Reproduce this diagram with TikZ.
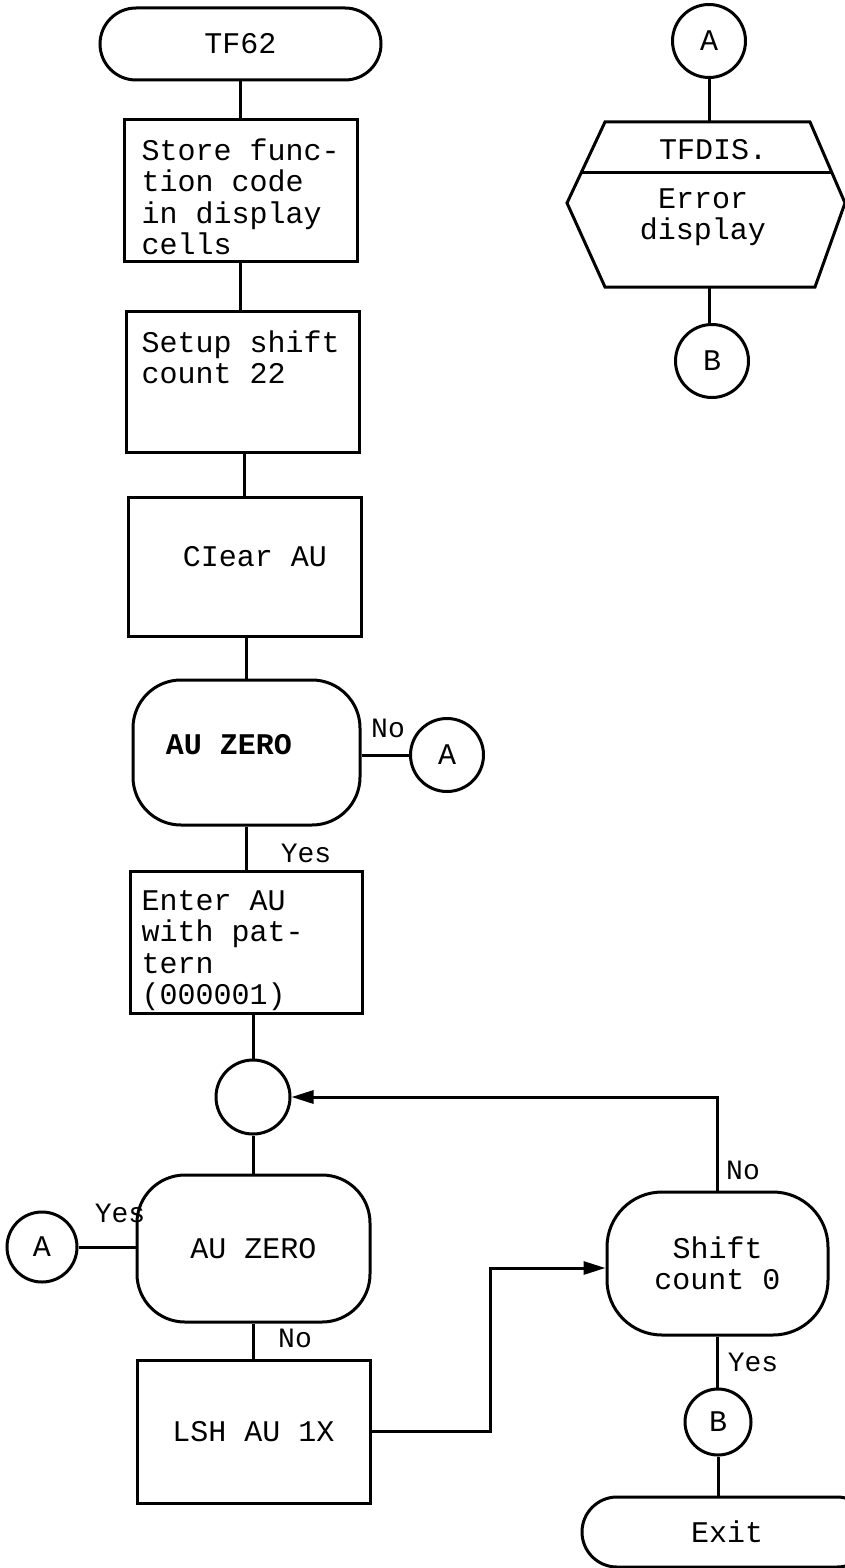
\documentclass[tikz,border=0pt]{standalone}
\usepackage{fontspec}
\newfontfamily\tw{Liberation Mono}
\usetikzlibrary{arrows.meta,shapes.misc}
\begin{document}
\begin{tikzpicture}[x=1pt,y=-1pt,line width=3pt,
  txt/.style={font=\tw\fontsize{30}{31.5}\selectfont, inner sep=0pt, align=left},
  boxnode/.style={draw, rectangle, inner sep=0pt, minimum width=233pt, minimum height=141pt, font=\tw\fontsize{30}{31.5}\selectfont},
  term/.style={draw, rounded rectangle, inner sep=0pt, minimum height=72pt, font=\tw\fontsize{30}{31.5}\selectfont},
  dec/.style={draw, rectangle, rounded corners=48pt, inner sep=0pt, align=center, font=\tw\fontsize{30}{31.5}\selectfont},
  conn/.style={draw, circle, inner sep=0pt, minimum size=73pt, font=\tw\fontsize{30}{31.5}\selectfont},
  lab/.style={font=\tw\fontsize{28}{30}\selectfont, inner sep=0pt},
  arr/.style={-{Triangle[length=22pt,width=13pt]}}]
\clip (0,0) rectangle (845,1568);
\fill[white] (0,0) rectangle (845,1568);

% main column
\node[term, minimum width=281pt] (t62) at (240.5,44) {TF62};
\node[boxnode] (b1) at (240.5,190.5) {};
\node[txt, anchor=north west] (b1t) at (140,137) {Store func-\\tion code\\in display\\cells};
\node[boxnode] (b2) at (242.5,381.5) {};
\node[txt, anchor=north west] (b2t) at (140,329) {Setup shift\\count 22};
\node[boxnode, minimum height=139pt] (b3) at (244.5,566.5) {};
\node[txt] (b3t) at (255,557) {CIear AU};
\node[dec, minimum width=227pt, minimum height=145pt] (d1) at (246.5,752.5) {};
\node[txt, font=\tw\bfseries\fontsize{30}{31.5}\selectfont] (d1t) at (229,745) {AU ZERO};
\node[conn] (a1) at (447,755) {A};
\node[boxnode, minimum width=232pt, minimum height=142pt] (b4) at (246,942) {};
\node[txt, anchor=north west] (b4t) at (140,889) {Enter AU\\with pat-\\tern\\(000001)};
\node[circle, draw, minimum size=74pt, inner sep=0pt] (j) at (253,1097) {};
\node[dec, minimum width=233pt, minimum height=147pt] (d2) at (253.5,1248.5) {AU ZERO};
\node[conn, minimum size=70pt] (a2) at (42,1247) {A};
\node[boxnode, minimum height=143pt] (b5) at (253.5,1431.5) {LSH AU 1X};
\node[dec, minimum width=221pt, minimum height=143pt, rounded corners=55pt] (s0) at (717.5,1263.5) {Shift\\count 0};
\node[conn, minimum size=66pt] (b) at (718,1422) {B};
\node[term, minimum width=290pt, minimum height=70pt] (ex) at (727,1532) {Exit};

% labels
\node[lab] (l1) at (388,728) {No};
\node[lab] (l2) at (306,853) {Yes};
\node[lab] (l3) at (120,1213) {Yes};
\node[lab] (l4) at (295,1338) {No};
\node[lab] (l5) at (743,1170) {No};
\node[lab] (l6) at (753,1362) {Yes};

% connectors
\draw (t62.south) -- (t62.south |- b1.north);
\draw (b2.north -| b1.south) -- (b1.south);
\draw (b3.north) -- (b3.north |- b2.south);
\draw (d1.north) -- (d1.north |- b3.south);
\draw (a1.west -| d1.east) -- (a1.west);
\draw (d1.south) -- (d1.south |- b4.north);
\draw (j.north) -- (j.north |- b4.south);
\draw (j.south) -- (j.south |- d2.north);
\draw (a2.east) -- (a2.east -| d2.west);
\draw (d2.south) -- (d2.south |- b5.north);
\coordinate (bend) at (490,1268);
\draw[arr] (b5.east) -| (bend) -- (bend -| s0.west);
\draw[arr] (s0.north) |- (j.east);
\draw (s0.south) -- (s0.south |- b.north);
\draw (b.south) -- (b.south |- ex.north);

% right-hand subroutine
\node[conn] (ta) at (709,41) {A};
\coordinate (hT) at (709,122);
\coordinate (hB) at (709,287);
\draw (605,122) -- (810,122) -- (845,203) -- (815,287) -- (605,287) -- (567,203) -- cycle;
\draw (581.5,172) -- (831.5,172);
\node[txt] (hd) at (713,150) {TFDIS.};
\node[txt, align=center] (he) at (703,217) {Error\\display};
\node[conn] (tb) at (712,361) {B};
\draw (ta.south) -- (hT);
\draw (hB) -- (hB |- tb.north);
\end{tikzpicture}
\end{document}
